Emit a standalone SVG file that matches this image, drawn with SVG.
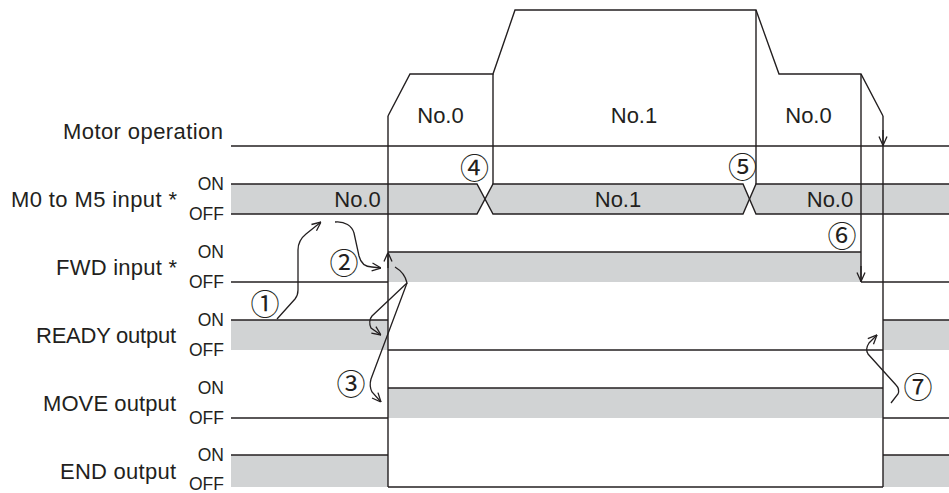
<svg xmlns="http://www.w3.org/2000/svg" width="949" height="493" viewBox="0 0 949 493">
<style>
.ln{fill:none;stroke:#231f20;stroke-width:1.4}
.ar{fill:none;stroke:#231f20;stroke-width:1.3}
.gr{fill:#d1d3d4;stroke:none}
.lb{font-family:"Liberation Sans",Arial,sans-serif;font-size:22px;fill:#231f20}
.oo{font-family:"Liberation Sans",Arial,sans-serif;font-size:17.5px;fill:#231f20;text-anchor:end;dominant-baseline:central}
.cn{font-family:"Noto Sans CJK JP","DejaVu Sans",sans-serif;font-size:29px;fill:#231f20;text-anchor:middle;dominant-baseline:central}
.mid{text-anchor:middle}
.end{text-anchor:end}
</style>
<defs>
<marker id="ah" viewBox="0 0 10 10" refX="10" refY="5" markerWidth="10" markerHeight="10" markerUnits="userSpaceOnUse" orient="auto">
<path d="M1,1 L10,5 L1,9" fill="none" stroke="#231f20" stroke-width="1.3"/>
</marker>
</defs>
<rect width="949" height="493" fill="#ffffff"/>

<g id="labels">
<text class="lb end" x="223" y="139" textLength="160" lengthAdjust="spacing">Motor operation</text>
<text class="lb end" x="177" y="207" textLength="166" lengthAdjust="spacing">M0 to M5 input *</text>
<text class="lb end" x="177" y="275" textLength="121" lengthAdjust="spacing">FWD input *</text>
<text class="lb end" x="176" y="343" textLength="140" lengthAdjust="spacing">READY output</text>
<text class="lb end" x="176" y="411" textLength="133" lengthAdjust="spacing">MOVE output</text>
<text class="lb end" x="176" y="479" textLength="116" lengthAdjust="spacing">END output</text>
<text class="oo" x="224" y="184">ON</text>
<text class="oo" x="224" y="214">OFF</text>
<text class="oo" x="224" y="252">ON</text>
<text class="oo" x="224" y="282">OFF</text>
<text class="oo" x="224" y="320">ON</text>
<text class="oo" x="224" y="350">OFF</text>
<text class="oo" x="224" y="388">ON</text>
<text class="oo" x="224" y="418">OFF</text>
<text class="oo" x="224" y="455">ON</text>
<text class="oo" x="224" y="484">OFF</text>
</g>

<g id="motor">
<line class="ln" x1="231" y1="146" x2="949" y2="146"/>
<polyline class="ln" points="388,116 410,74 493,74 515,10 756,10 779,74 861,74 883,116"/>
<text class="lb mid" x="440.5" y="123">No.0</text>
<text class="lb mid" x="634" y="123">No.1</text>
<text class="lb mid" x="808.5" y="123">No.0</text>
</g>

<g id="m0-m5">
<polygon class="gr" points="231,184 477,184 485,199 477,214 231,214"/>
<polygon class="gr" points="493,184 743,184 749.5,199 743,214 493,214 485,199"/>
<polygon class="gr" points="756,184 949,184 949,214 756,214 749.5,199"/>
<polyline class="ln" points="231,184 477,184 493,214 743,214 756,184 949,184"/>
<polyline class="ln" points="231,214 477,214 493,184 743,184 756,214 949,214"/>
<text class="lb mid" x="357.5" y="207">No.0</text>
<text class="lb mid" x="618" y="207">No.1</text>
<text class="lb mid" x="830" y="207">No.0</text>
</g>

<g id="fwd">
<rect class="gr" x="388" y="252" width="473" height="30"/>
<line class="ln" x1="231" y1="282" x2="388" y2="282"/>
<line class="ln" x1="388" y1="252" x2="861" y2="252"/>
<line class="ln" x1="861" y1="282" x2="949" y2="282"/>
</g>

<g id="ready">
<rect class="gr" x="231" y="320" width="157" height="30"/>
<rect class="gr" x="883" y="320" width="66" height="30"/>
<line class="ln" x1="231" y1="320" x2="388" y2="320"/>
<line class="ln" x1="388" y1="350" x2="883" y2="350"/>
<line class="ln" x1="883" y1="320" x2="949" y2="320"/>
</g>

<g id="move">
<rect class="gr" x="388" y="388" width="495" height="30"/>
<line class="ln" x1="231" y1="418" x2="388" y2="418"/>
<line class="ln" x1="388" y1="388" x2="883" y2="388"/>
<line class="ln" x1="883" y1="418" x2="949" y2="418"/>
</g>

<g id="end">
<rect class="gr" x="231" y="455" width="157" height="32"/>
<rect class="gr" x="883" y="455" width="66" height="32"/>
<line class="ln" x1="231" y1="455" x2="388" y2="455"/>
<line class="ln" x1="388" y1="487" x2="883" y2="487"/>
<line class="ln" x1="883" y1="455" x2="949" y2="455"/>
</g>

<g id="connectors">
<line class="ln" x1="388" y1="116" x2="388" y2="487"/>
<line class="ln" x1="493" y1="74" x2="493" y2="184"/>
<line class="ln" x1="756" y1="10" x2="756" y2="184"/>
<line class="ln" x1="861" y1="74" x2="861" y2="282"/>
<line class="ln" x1="883" y1="116" x2="883" y2="487"/>
<path class="ar" d="M883,130 L883,145.5" marker-end="url(#ah)"/>
<path class="ar" d="M861,266 L861,281.5" marker-end="url(#ah)"/>
<path class="ar" d="M388,268 L388,252.5" marker-end="url(#ah)"/>
<path class="ar" d="M277,319 L295,299 C297.5,296 298,294 298,290 L298,250 C298,243 301,238 306,234 L321,222" marker-end="url(#ah)"/>
<path class="ar" d="M335,222 C345,221 352,226 354,233 L359,256 C361,264 365,267 372,267 L381,268" marker-end="url(#ah)"/>
<path class="ar" d="M395,267 Q405,273 407,283 L372,316 Q368,321 371,328 L381,335" marker-end="url(#ah)"/>
<path class="ar" d="M407,283 L371,379 Q369,386 372,392 L381,402" marker-end="url(#ah)"/>
<path class="ar" d="M891,403 L898,394 Q900,389 896,385 L868,354 Q865,349 869,343 L877,335" marker-end="url(#ah)"/>
</g>

<g id="steps">
<text class="cn" x="265" y="302">①</text>
<text class="cn" x="344" y="261">②</text>
<text class="cn" x="351" y="382">③</text>
<text class="cn" x="474.5" y="165.5">④</text>
<text class="cn" x="742.5" y="165">⑤</text>
<text class="cn" x="842" y="233.5">⑥</text>
<text class="cn" x="918" y="384.5">⑦</text>
</g>
</svg>
